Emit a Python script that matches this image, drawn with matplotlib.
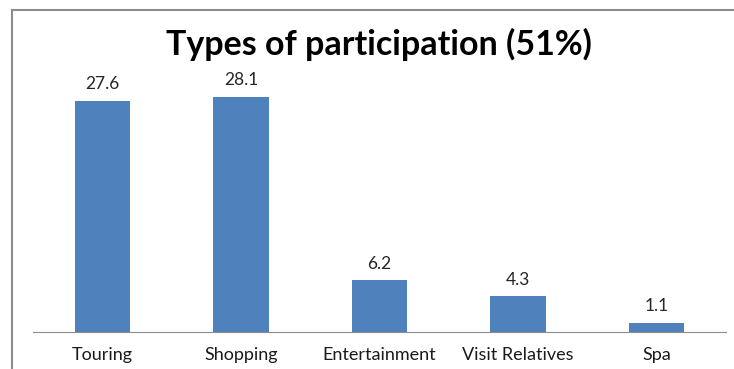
import matplotlib.pyplot as plt
from matplotlib.lines import Line2D

# Tipos de participacion (%)
categorias = ['Touring', 'Shopping', 'Entertainment', 'Visit Relatives', 'Spa']
valores = [27.6, 28.1, 6.2, 4.3, 1.1]
titulo = 'Types of participation (51%)'

plt.rcParams['font.family'] = ['Lato', 'DejaVu Sans']

fig = plt.figure(figsize=(7.34, 3.69), dpi=100)
W, H = 734, 369
ax = fig.add_axes([33 / W, (H - 332) / H, (726 - 33) / W, (332 - 80.6) / H])

x = range(len(categorias))
barras = ax.bar(x, valores, width=0.4, color='#4F81BD')
for b, v in zip(barras, valores):
    ax.annotate(f'{v}', (b.get_x() + b.get_width() / 2, v),
                xytext=(0, 6), textcoords='offset points',
                ha='center', va='bottom', fontsize=12.5, color='#262626')

ax.set_xlim(-0.5, 4.5)
ax.set_ylim(0, 30)
ax.set_xticks(list(x))
ax.set_xticklabels(categorias, fontsize=13, color='#1a1a1a')
ax.tick_params(axis='x', length=0, pad=11)
ax.set_yticks([])
for s in ['top', 'right', 'left']:
    ax.spines[s].set_visible(False)
ax.spines['bottom'].set_color('#8c8c8c')

fig.text(379 / W, 1 - 44 / H, titulo, ha='center', va='center',
         fontsize=24.5, fontweight='bold', color='black')

# marco gris arriba e izquierda
fig.add_artist(Line2D([12 / W, 1], [1 - 10 / H, 1 - 10 / H], color='#8c8c8c', lw=1.5))
fig.add_artist(Line2D([12 / W, 12 / W], [0, 1 - 10 / H], color='#8c8c8c', lw=1.5))

fig.savefig('out.png', dpi=100)
